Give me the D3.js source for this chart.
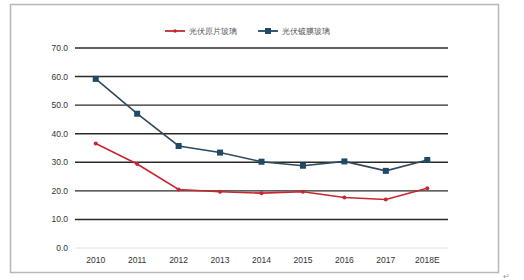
<!DOCTYPE html>
<html>
<head>
<meta charset="utf-8">
<script src="https://cdn.jsdelivr.net/npm/d3@7"></script>
<style>
  body { margin: 0; background: #fff; }
  text { font-family: Arial, "Liberation Sans", sans-serif; }
</style>
</head>
<body>
<svg id="chart" width="524" height="280"></svg>
<script>
var years = ["2010", "2011", "2012", "2013", "2014", "2015", "2016", "2017", "2018E"];
var rawGlass = [36.6, 29.4, 20.5, 19.7, 19.2, 19.7, 17.7, 17.0, 20.9];
var coatedGlass = [59.2, 47.0, 35.7, 33.4, 30.2, 28.8, 30.3, 27.0, 30.8];
var yTicks = [0, 10, 20, 30, 40, 50, 60, 70];
var seriesNames = ["光伏原片玻璃", "光伏镀膜玻璃"];

var svg = d3.select("#chart");

// outer frame
svg.append("rect")
  .attr("x", 10.5).attr("y", 4.5)
  .attr("width", 488).attr("height", 268)
  .attr("fill", "none")
  .attr("stroke", "#b8b8b8")
  .attr("stroke-width", 1.5);

var x = d3.scaleBand().domain(years).range([75, 448]);
var y = d3.scaleLinear().domain([0, 70]).range([248, 48]);

// grid lines
svg.append("g")
  .selectAll("line")
  .data(yTicks)
  .join("line")
    .attr("x1", 75).attr("x2", 448)
    .attr("y1", d => y(d)).attr("y2", d => y(d))
    .attr("stroke", d => d === 0 ? "#e2e2e2" : "#2a2a2a")
    .attr("stroke-width", d => d === 0 ? 1 : 1.4);

// y labels
svg.append("g")
  .selectAll("text")
  .data(yTicks)
  .join("text")
    .attr("x", 68)
    .attr("y", d => y(d))
    .attr("dy", "0.35em")
    .attr("text-anchor", "end")
    .attr("font-size", 8.5)
    .attr("fill", "#333")
    .text(d => d.toFixed(1));

// x labels
svg.append("g")
  .selectAll("text")
  .data(years)
  .join("text")
    .attr("x", d => x(d) + x.bandwidth() / 2)
    .attr("y", 263)
    .attr("text-anchor", "middle")
    .attr("font-size", 8.5)
    .attr("fill", "#333")
    .text(d => d);

var line = d3.line()
  .x((d, i) => x(years[i]) + x.bandwidth() / 2)
  .y(d => y(d));

var red = "#c8262e", blue = "#1d4a66";

svg.append("path")
  .attr("d", line(rawGlass))
  .attr("fill", "none")
  .attr("stroke", red)
  .attr("stroke-width", 1.6);

svg.append("g")
  .selectAll("circle")
  .data(rawGlass)
  .join("circle")
    .attr("cx", (d, i) => x(years[i]) + x.bandwidth() / 2)
    .attr("cy", d => y(d))
    .attr("r", 2)
    .attr("fill", red);

svg.append("path")
  .attr("d", line(coatedGlass))
  .attr("fill", "none")
  .attr("stroke", "#2e4a5c")
  .attr("stroke-width", 1.6);

svg.append("g")
  .selectAll("rect")
  .data(coatedGlass)
  .join("rect")
    .attr("x", (d, i) => x(years[i]) + x.bandwidth() / 2 - 3)
    .attr("y", d => y(d) - 3)
    .attr("width", 6).attr("height", 6)
    .attr("fill", blue);

// legend
var legend = svg.append("g");
var lx = [165, 258];
var colors = [red, blue];
seriesNames.forEach(function(name, i) {
  legend.append("line")
    .attr("x1", lx[i]).attr("x2", lx[i] + 20)
    .attr("y1", 31).attr("y2", 31)
    .attr("stroke", colors[i])
    .attr("stroke-width", 1.8);
  if (i === 0) {
    legend.append("circle").attr("cx", lx[i] + 10).attr("cy", 31).attr("r", 1.8).attr("fill", colors[i]);
  } else {
    legend.append("rect").attr("x", lx[i] + 7).attr("y", 28).attr("width", 6).attr("height", 6).attr("fill", colors[i]);
  }
  legend.append("text")
    .attr("x", lx[i] + 24)
    .attr("y", 31)
    .attr("dy", "0.35em")
    .attr("font-size", 7.5)
    .attr("font-family", "'Noto Sans CJK SC', sans-serif")
    .attr("fill", "#555")
    .text(name);
});

svg.append("text")
  .attr("x", 503).attr("y", 279)
  .attr("font-size", 8)
  .attr("fill", "#999")
  .text("↵");
</script>
</body>
</html>
